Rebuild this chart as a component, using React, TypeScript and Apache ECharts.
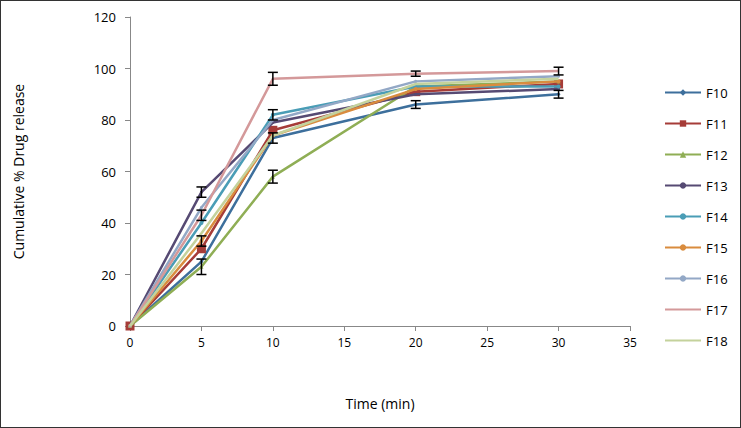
import React, { useEffect, useRef } from "react";
import * as echarts from "echarts";

const times = [0, 5, 10, 20, 30];
const seriesNames = ["F10", "F11", "F12", "F13", "F14", "F15", "F16", "F17", "F18"];
const F10 = [0, 25, 73, 86, 90];
const F11 = [0, 30, 76, 91, 94];
const F12 = [0, 23, 58, 93, 95];
const F13 = [0, 52, 79, 90, 92];
const F14 = [0, 40, 82, 93, 93];
const F15 = [0, 33, 74, 92, 95];
const F16 = [0, 46, 80, 95, 97];
const F17 = [0, 43, 96, 98, 99];
const F18 = [0, 36, 74, 94, 96];
const values = [F10, F11, F12, F13, F14, F15, F16, F17, F18];
// standard deviations (0 = no bar shown)
const F10Err = [0, 0, 2, 1.5, 1.5];
const F12Err = [0, 3, 2.5, 0, 0];
const F13Err = [0, 2, 0, 0, 0];
const F14Err = [0, 0, 2, 0, 0];
const F15Err = [0, 2, 0, 0, 0];
const F17Err = [0, 2, 2.5, 1, 1.5];
const errors: Record<string, number[]> = { F10: F10Err, F12: F12Err, F13: F13Err, F14: F14Err, F15: F15Err, F17: F17Err };

const colors = ["#3D6F9C", "#A63C38", "#8FAE55", "#564A73", "#4A9DB6", "#D98C3E", "#93A8C6", "#D4999A", "#C4D29C"];
const symbols = ["diamond", "rect", "triangle", "circle", "circle", "circle", "circle", "none", "none"];
const symbolSizes = [4, 9, 4, 3, 4, 4, 3, 0, 0];

export default function App() {
  const ref = useRef<HTMLDivElement>(null);
  useEffect(() => {
    if (!ref.current) return;
    const chart = echarts.init(ref.current, undefined, { renderer: "svg" });
    const errData: number[][] = [];
    seriesNames.forEach((n, i) => {
      const e = errors[n];
      if (!e) return;
      const v = values[i];
      times.forEach((t, j) => {
        if (e[j] > 0) errData.push([t, v[j], e[j]]);
      });
    });
    const font = "Open Sans, sans-serif";
    chart.setOption({
      animation: false,
      backgroundColor: "#fff",
      grid: { left: 129, right: 110, top: 16, bottom: 101 },
      legend: {
        orient: "vertical",
        left: 658,
        top: 80,
        itemWidth: 36,
        itemHeight: 8,
        itemGap: 18,
        textStyle: { fontFamily: font, fontSize: 13, color: "#000" },
        data: seriesNames.map((n, i) =>
          symbols[i] === "none" ? { name: n, itemStyle: { opacity: 0 } } : { name: n }
        ),
      },
      xAxis: {
        type: "value",
        min: 0,
        max: 35,
        interval: 5,
        name: "Time (min)",
        nameLocation: "middle",
        nameGap: 70,
        nameTextStyle: { fontFamily: font, fontSize: 14, color: "#000" },
        axisLine: { lineStyle: { color: "#888" } },
        axisTick: { show: true, length: 5, lineStyle: { color: "#888" } },
        axisLabel: { fontFamily: font, fontSize: 12, color: "#000", margin: 10 },
        splitLine: { show: false },
      },
      yAxis: {
        type: "value",
        min: 0,
        max: 120,
        interval: 20,
        name: "Cumulative % Drug release",
        nameLocation: "middle",
        nameGap: 105,
        nameTextStyle: { fontFamily: font, fontSize: 14, color: "#000" },
        axisLine: { show: true, lineStyle: { color: "#888" } },
        axisTick: { show: true, length: 5, lineStyle: { color: "#888" } },
        axisLabel: { fontFamily: font, fontSize: 13, color: "#000", margin: 14 },
        splitLine: { show: false },
      },
      series: [
        ...seriesNames.map((n, i) => ({
          name: n,
          type: "line",
          data: times.map((t, j) => [t, values[i][j]]),
          color: colors[i],
          lineStyle: { width: 2.5, color: colors[i] },
          symbol: symbols[i],
          symbolSize: symbolSizes[i],
          showSymbol: symbols[i] !== "none",
          itemStyle: { color: colors[i] },
          z: 2 + i,
        })),
        {
          type: "custom",
          name: "err",
          z: 20,
          data: errData,
          renderItem: (params: any, api: any) => {
            const x = api.value(0);
            const y = api.value(1);
            const e = api.value(2);
            const top = api.coord([x, y + e]);
            const bot = api.coord([x, y - e]);
            const w = 5;
            const style = { stroke: "#000", lineWidth: 1.5 };
            return {
              type: "group",
              children: [
                { type: "line", shape: { x1: top[0], y1: top[1], x2: bot[0], y2: bot[1] }, style },
                { type: "line", shape: { x1: top[0] - w, y1: top[1], x2: top[0] + w, y2: top[1] }, style },
                { type: "line", shape: { x1: bot[0] - w, y1: bot[1], x2: bot[0] + w, y2: bot[1] }, style },
              ],
            };
          },
        },
      ],
    });
    return () => chart.dispose();
  }, []);
  return (
    <div
      ref={ref}
      style={{ position: "fixed", left: 0, top: 0, width: 741, height: 428, border: "1px solid #333", boxSizing: "border-box" }}
    />
  );
}
